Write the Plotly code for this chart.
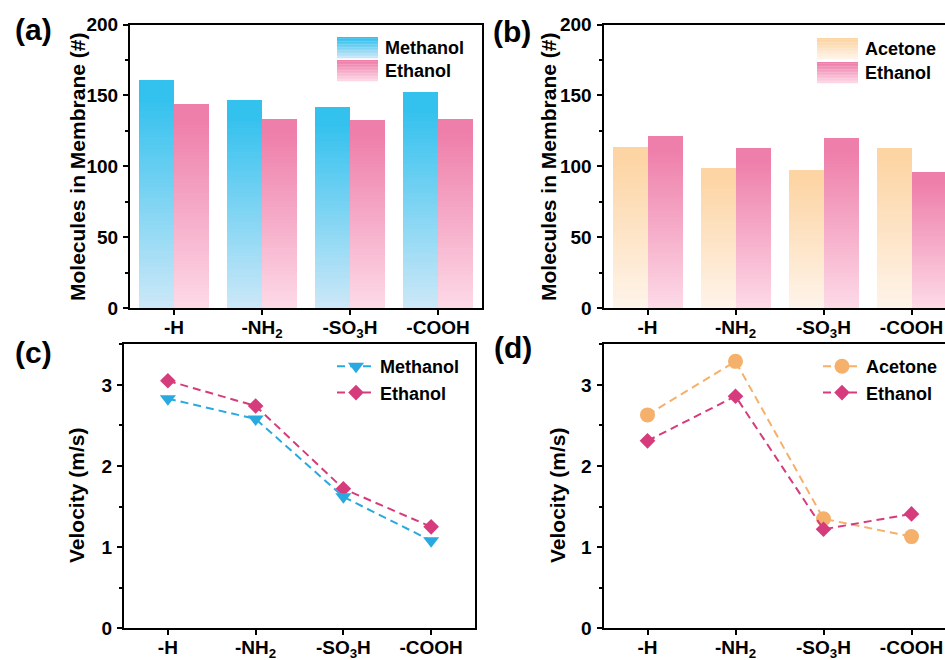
import plotly.graph_objects as go

# ---------------- data ----------------
categories = ["-H", "-NH<sub>2</sub>", "-SO<sub>3</sub>H", "-COOH"]

# (a) molecules in membrane
methanol_count = [161, 147, 142, 153]
ethanol_count_a = [144, 134, 133, 134]
# (b) molecules in membrane
acetone_count = [114, 99, 98, 113]
ethanol_count_b = [121.5, 113, 120, 96.5]
# (c) velocity
methanol_vel = [2.83, 2.58, 1.62, 1.08]
ethanol_vel_c = [3.05, 2.74, 1.72, 1.25]
# (d) velocity
acetone_vel = [2.63, 3.29, 1.35, 1.13]
ethanol_vel_d = [2.31, 2.86, 1.22, 1.41]

# ---------------- style ----------------
W, H = 945, 660
FONT = "Liberation Sans, Arial, sans-serif"
BLUE_TOP, BLUE_BOT = "#33C1EE", "#CDE8F8"
PINK_TOP, PINK_BOT = "#EE7FAA", "#FDDAE7"
ORNG_TOP, ORNG_BOT = "#FDD5A5", "#FEF4EA"
C_METH, C_ETH, C_ACE = "#29A9E0", "#D63B7C", "#F5B06B"
NSLICE = 60


def hex2rgb(h):
    h = h.lstrip("#")
    return tuple(int(h[i:i + 2], 16) for i in (0, 2, 4))


def grad(top, bot, t):
    """t = 0 at bottom, 1 at top"""
    f = min(1.0, t / 0.92)
    a, b = hex2rgb(bot), hex2rgb(top)
    c = [round(a[i] + (b[i] - a[i]) * f) for i in range(3)]
    return "rgb(%d,%d,%d)" % tuple(c)


def px_x(x):
    return x / W


def px_y(y):
    return 1 - y / H


fig = go.Figure()


def gradient_bars(values, top, bot, offset, xa, ya, name):
    for k in range(NSLICE):
        t = (k + 0.5) / NSLICE
        fig.add_trace(go.Bar(
            x=categories,
            y=[v / NSLICE for v in values],
            base=[v * k / NSLICE for v in values],
            width=0.4, offset=offset,
            marker=dict(color=grad(top, bot, t), line=dict(width=0)),
            name=name, showlegend=False, hoverinfo="skip",
            xaxis=xa, yaxis=ya,
        ))


gradient_bars(methanol_count, BLUE_TOP, BLUE_BOT, -0.4, "x", "y", "Methanol")
gradient_bars(ethanol_count_a, PINK_TOP, PINK_BOT, 0.0, "x", "y", "Ethanol")
gradient_bars(acetone_count, ORNG_TOP, ORNG_BOT, -0.4, "x2", "y2", "Acetone")
gradient_bars(ethanol_count_b, PINK_TOP, PINK_BOT, 0.0, "x2", "y2", "Ethanol")

DASH = "8px,5px"
# (c)
fig.add_trace(go.Scatter(x=categories, y=ethanol_vel_c, mode="lines+markers", name="Ethanol",
                         line=dict(color=C_ETH, width=2, dash=DASH),
                         marker=dict(symbol="diamond", size=12, color=C_ETH),
                         xaxis="x3", yaxis="y3", legend="legend", legendrank=2))
fig.add_trace(go.Scatter(x=categories, y=methanol_vel, mode="lines+markers", name="Methanol",
                         line=dict(color=C_METH, width=2, dash=DASH),
                         marker=dict(symbol="triangle-down", size=14, color=C_METH),
                         xaxis="x3", yaxis="y3", legend="legend", legendrank=1))
# (d)
fig.add_trace(go.Scatter(x=categories, y=acetone_vel, mode="lines+markers", name="Acetone",
                         line=dict(color=C_ACE, width=2, dash=DASH),
                         marker=dict(symbol="circle", size=15, color=C_ACE),
                         xaxis="x4", yaxis="y4", legend="legend2", legendrank=1))
fig.add_trace(go.Scatter(x=categories, y=ethanol_vel_d, mode="lines+markers", name="Ethanol",
                         line=dict(color=C_ETH, width=2, dash=DASH),
                         marker=dict(symbol="diamond", size=12, color=C_ETH),
                         xaxis="x4", yaxis="y4", legend="legend2", legendrank=2))

TICKFONT = dict(family=FONT, size=19, color="black", weight="bold")
TITLEFONT = dict(family=FONT, size=21, color="black", weight="bold")


def xaxis(dom, rng, anchor):
    return dict(domain=dom, range=rng, anchor=anchor, type="category",
                categoryorder="array", categoryarray=categories,
                showline=True, linecolor="black", linewidth=2, mirror=True,
                ticks="outside", ticklen=5, tickwidth=2, tickcolor="black",
                tickfont=TICKFONT, ticklabelstandoff=-4,
                showgrid=False, zeroline=False, fixedrange=True, automargin=False)


def yaxis(dom, rng, dtick, mdtick, anchor, mirror):
    return dict(domain=dom, range=rng, anchor=anchor, dtick=dtick, tick0=0,
                showline=True, linecolor="black", linewidth=2, mirror=mirror,
                ticks="outside", ticklen=5, tickwidth=2, tickcolor="black",
                minor=dict(ticks="outside", ticklen=3, tickwidth=1.5, tickcolor="black",
                           dtick=mdtick, tick0=0, showgrid=False),
                tickfont=TICKFONT, ticklabelstandoff=1,
                showgrid=False, zeroline=False, fixedrange=True, automargin=False)


xa_dom = [px_x(130), px_x(482)]
xb_dom = [px_x(603.5), 1.0]
xc_dom = [px_x(124), px_x(475)]
xd_dom = [px_x(603.5), 1.0]
ytop_dom = [px_y(308), px_y(24.5)]
ybot_dom = [px_y(628.3), px_y(344.3)]
cut_rng = [-0.5, -0.5 + (945 - 603.5) / 88.0]

LEGFONT = dict(family=FONT, size=18, color="black", weight="bold")

fig.update_layout(
    width=W, height=H, autosize=False,
    margin=dict(l=0, r=0, t=0, b=0, pad=0, autoexpand=False),
    paper_bgcolor="white", plot_bgcolor="white",
    barmode="overlay", bargap=0,
    font=dict(family=FONT, color="black"),
    xaxis=xaxis(xa_dom, [-0.5, 3.5], "y"),
    yaxis=yaxis(ytop_dom, [0, 200], 50, 25, "x", True),
    xaxis2=xaxis(xb_dom, cut_rng, "y2"),
    yaxis2=yaxis(ytop_dom, [0, 200], 50, 25, "x2", False),
    xaxis3=xaxis(xc_dom, [-0.5, 3.5], "y3"),
    yaxis3=yaxis(ybot_dom, [0, 3.5], 1, 0.5, "x3", True),
    xaxis4=xaxis(xd_dom, cut_rng, "y4"),
    yaxis4=yaxis(ybot_dom, [0, 3.5], 1, 0.5, "x4", False),
    legend=dict(x=px_x(332), y=px_y(348), xanchor="left", yanchor="top",
                bgcolor="rgba(0,0,0,0)", itemwidth=38, tracegroupgap=0, font=LEGFONT),
    legend2=dict(x=px_x(818), y=px_y(348), xanchor="left", yanchor="top",
                 bgcolor="rgba(0,0,0,0)", itemwidth=38, tracegroupgap=0, font=LEGFONT),
)

# manual gradient legends for bar panels
shapes = []
annotations = []


def bar_legend(x0, x1, rows, x_text):
    for (y0, y1, top, bot, label) in rows:
        nb = 14
        for j in range(nb):
            ya = y0 + (y1 - y0) * j / nb
            yb = y0 + (y1 - y0) * (j + 1) / nb
            t = 1 - (j + 0.5) / nb
            shapes.append(dict(type="rect", xref="paper", yref="paper",
                               x0=px_x(x0), x1=px_x(x1), y0=px_y(ya), y1=px_y(yb + 0.3),
                               fillcolor=grad(top, bot, t), line=dict(width=0), layer="above"))
        annotations.append(dict(text=label, xref="paper", yref="paper",
                                x=px_x(x_text), y=px_y((y0 + y1) / 2), xanchor="left",
                                yanchor="middle", showarrow=False, font=LEGFONT))


bar_legend(337, 378, [(37, 58, BLUE_TOP, BLUE_BOT, "Methanol"),
                      (60, 81, PINK_TOP, PINK_BOT, "Ethanol")], 383)
bar_legend(817, 858, [(38, 59, ORNG_TOP, ORNG_BOT, "Acetone"),
                      (62, 83, PINK_TOP, PINK_BOT, "Ethanol")], 863)

# panel letters
for lab, x, y in [("(a)", 33, 29), ("(b)", 512, 31), ("(c)", 33, 352), ("(d)", 513, 348)]:
    annotations.append(dict(text=lab, xref="paper", yref="paper", x=px_x(x), y=px_y(y),
                            xanchor="center", yanchor="middle", showarrow=False,
                            font=dict(family=FONT, size=30, color="black", weight="bold")))

# y-axis titles
for lab, x, y in [("Molecules in Membrane (#)", 77, 167), ("Molecules in Membrane (#)", 548, 167),
                  ("Velocity (m/s)", 77, 496), ("Velocity (m/s)", 558, 496)]:
    annotations.append(dict(text=lab, xref="paper", yref="paper", x=px_x(x), y=px_y(y),
                            xanchor="center", yanchor="middle", textangle=-90, showarrow=False,
                            font=TITLEFONT))

fig.update_layout(shapes=shapes, annotations=annotations)

fig.write_html("out.html")
